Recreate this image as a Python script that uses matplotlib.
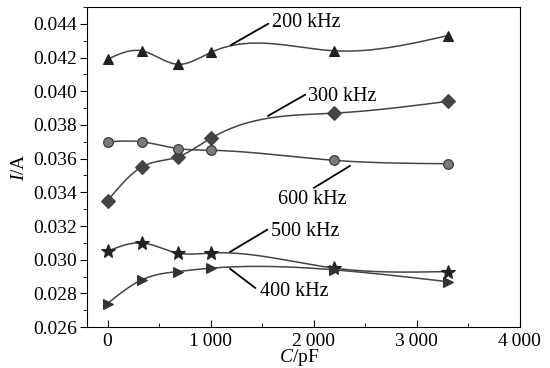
import numpy as np
import matplotlib.pyplot as plt
from matplotlib.ticker import MultipleLocator, FuncFormatter

plt.rcParams['font.family'] = ['Liberation Serif', 'DejaVu Serif']
plt.rcParams['mathtext.fontset'] = 'custom'
plt.rcParams['mathtext.it'] = 'Liberation Serif:italic'
plt.rcParams['mathtext.rm'] = 'Liberation Serif'

# capacitance values (pF)
cap = [0, 330, 680, 1000, 2200, 3300]

# current (A) per frequency
i_200 = [0.0419, 0.0424, 0.0416, 0.0423, 0.0424, 0.0433]
i_300 = [0.0335, 0.0355, 0.0361, 0.0372, 0.0387, 0.0394]
i_600 = [0.0370, 0.0370, 0.0366, 0.0365, 0.0359, 0.0357]
i_500 = [0.0305, 0.0310, 0.0304, 0.0304, 0.0295, 0.0293]
i_400 = [0.0274, 0.0288, 0.0293, 0.0295, 0.0294, 0.0287]


def natural_spline(x, y, n=300):
    x = np.asarray(x, float)
    y = np.asarray(y, float)
    k = len(x)
    h = np.diff(x)
    A = np.zeros((k, k))
    b = np.zeros(k)
    A[0, 0] = A[-1, -1] = 1
    for i in range(1, k - 1):
        A[i, i - 1] = h[i - 1]
        A[i, i] = 2 * (h[i - 1] + h[i])
        A[i, i + 1] = h[i]
        b[i] = 6 * ((y[i + 1] - y[i]) / h[i] - (y[i] - y[i - 1]) / h[i - 1])
    m = np.linalg.solve(A, b)
    xs = np.linspace(x[0], x[-1], n)
    idx = np.clip(np.searchsorted(x, xs) - 1, 0, k - 2)
    x0, x1 = x[idx], x[idx + 1]
    hh = x1 - x0
    t0, t1 = x1 - xs, xs - x0
    ys = (m[idx] * t0**3 + m[idx + 1] * t1**3) / (6 * hh) \
        + (y[idx] / hh - m[idx] * hh / 6) * t0 \
        + (y[idx + 1] / hh - m[idx + 1] * hh / 6) * t1
    return xs, ys


fig = plt.figure(figsize=(5.5, 3.68), dpi=100)
ax = fig.add_axes([0.158, 0.111, 0.787, 0.870])

series = [
    (i_200, '^', '#222222', '#222222'),
    (i_300, 'D', '#444444', '#444444'),
    (i_600, 'o', '#7a7a7a', '#333333'),
    (i_500, '*', '#222222', '#222222'),
    (i_400, '>', '#333333', '#333333'),
]
for vals, mk, fc, ec in series:
    xs, ys = natural_spline(cap, vals)
    ax.plot(xs, ys, color='#444444', lw=1.1, zorder=2)
    size = 10 if mk == '*' else 7
    ax.plot(cap, vals, linestyle='none', marker=mk, ms=size,
            mfc=fc, mec=ec, mew=0.8, zorder=3)

# leader lines and labels
notes = [
    ('200 kHz', (1200, 0.04275), (1558, 0.0440), (1600, 0.0441)),
    ('300 kHz', (1558, 0.03854), (1917, 0.03979), (1945, 0.0397)),
    ('600 kHz', (2352, 0.03557), (2004, 0.03427), (1655, 0.03355)),
    ('500 kHz', (1190, 0.03047), (1549, 0.03178), (1590, 0.03166)),
    ('400 kHz', (1190, 0.02946), (1433, 0.02833), (1480, 0.0281)),
]
for txt, p1, p2, pt in notes:
    ax.plot([p1[0], p2[0]], [p1[1], p2[1]], color='black', lw=1.3)
    ax.text(pt[0], pt[1], txt, fontsize=14.5, va='center', ha='left')

ax.set_xlim(-200, 4000)
ax.set_ylim(0.026, 0.045)
ax.xaxis.set_major_locator(MultipleLocator(1000))
ax.xaxis.set_minor_locator(MultipleLocator(500))
ax.yaxis.set_major_locator(MultipleLocator(0.002))
ax.yaxis.set_minor_locator(MultipleLocator(0.001))
ax.xaxis.set_major_formatter(FuncFormatter(
    lambda v, p: '{:,}'.format(int(v)).replace(',', '\u2009')))
ax.yaxis.set_major_formatter(FuncFormatter(lambda v, p: '%.3f' % v))

ax.tick_params(axis='x', which='both', direction='in', top=False,
               labelsize=14, pad=4)
ax.tick_params(axis='x', which='major', length=5)
ax.tick_params(axis='x', which='minor', length=3)
ax.tick_params(axis='y', which='both', direction='out', right=False,
               labelsize=14, pad=2)
ax.tick_params(axis='y', which='major', length=5)
ax.tick_params(axis='y', which='minor', length=3)

ax.set_xlabel('$C$/pF', fontsize=14)
ax.set_ylabel('$I$/A', fontsize=14)
ax.xaxis.set_label_coords(0.49, -0.095)
ax.yaxis.set_label_coords(-0.155, 0.5)
ax.xaxis.label.set_va('center')
ax.yaxis.label.set_va('center')

fig.savefig('out.png', dpi=100)
